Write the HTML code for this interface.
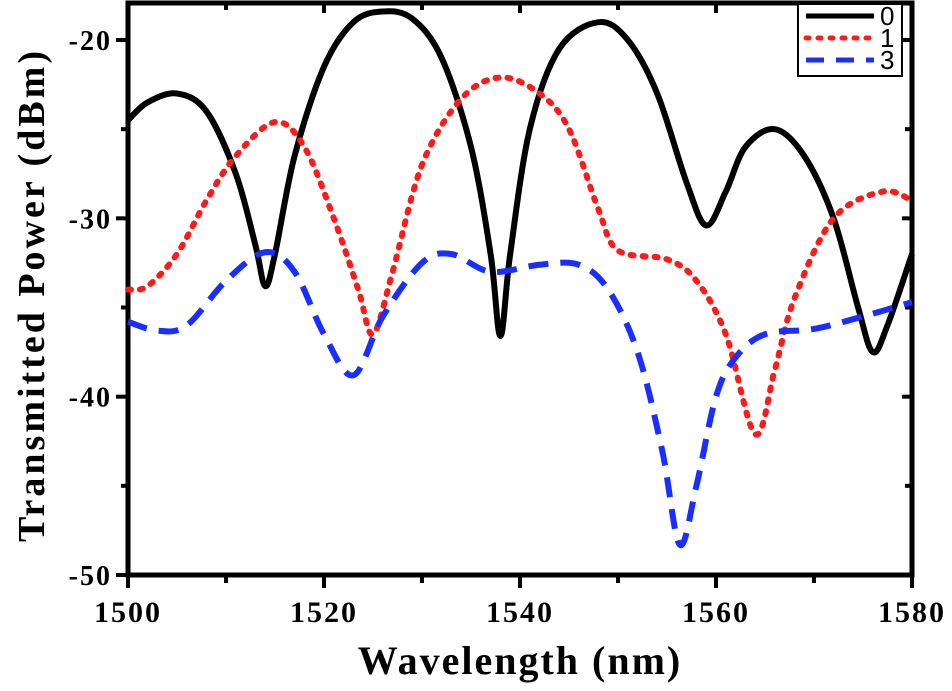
<!DOCTYPE html>
<html><head><meta charset="utf-8"><style>
html,body{margin:0;padding:0;background:#fff;}
svg{display:block;font-family:"Liberation Serif",serif;font-weight:bold;}
</style></head><body>
<svg id="chart" width="952" height="691" viewBox="0 0 952 691">
<g id="axes"></g>
<g id="series"></g>
<g id="legend"></g>
<text x="520" y="674" text-anchor="middle" font-size="40" letter-spacing="2">Wavelength (nm)</text>
<text transform="translate(44,295) rotate(-90)" text-anchor="middle" font-size="38" letter-spacing="3">Transmitted Power (dBm)</text>
</svg>
<script>
const xTicks=[1500,1520,1540,1560,1580];
const xMinor=[1510,1530,1550,1570];
const yTicks=[-20,-30,-40,-50];
const yMinor=[-25,-35,-45];
const seriesNames=["0","1","3"];
const black=[[1500,-24.5],[1502,-23.5],[1505,-23.0],[1508,-24.0],[1511,-27.5],[1513,-31.5],[1514,-33.8],[1515,-32],[1517,-26.5],[1520,-21.5],[1523,-19],[1526,-18.4],[1529,-18.8],[1532,-21],[1535,-26],[1537,-32],[1538,-36.6],[1539,-32],[1541,-25],[1544,-20.5],[1548,-19],[1551,-20],[1554,-23],[1557,-28],[1559,-30.4],[1561,-28.5],[1563,-26],[1566,-25],[1569,-26.5],[1572,-30],[1574.5,-35],[1576,-37.5],[1577.5,-36],[1580,-32]];
const red=[[1500,-34],[1502,-33.8],[1505,-32],[1508,-29],[1511,-26.5],[1515,-24.6],[1518,-26],[1521,-30],[1523.5,-34],[1525,-36.5],[1527,-33],[1530,-27],[1534,-23.3],[1538,-22.1],[1542,-23],[1545,-25],[1548,-29.5],[1550,-31.8],[1555,-32.3],[1558,-33.5],[1561,-36.5],[1564,-42.1],[1566,-38.5],[1568,-34.5],[1572,-30],[1577,-28.5],[1580,-29]];
const blue=[[1500,-35.8],[1503,-36.3],[1506,-36],[1510,-33.5],[1514,-31.9],[1517,-33],[1520,-36.5],[1523,-38.8],[1526,-35.5],[1530,-32.5],[1533,-32],[1537,-33],[1542,-32.6],[1546,-32.6],[1549,-34],[1552,-37.5],[1554.5,-43],[1556.3,-48.3],[1558,-45],[1560,-40],[1562,-37.8],[1565,-36.5],[1570,-36.2],[1575,-35.5],[1580,-34.7]];
const L=128,R=912,T=3,B=575;
const X=v=>L+(v-1500)/80*(R-L);
const Y=v=>40+(-20-v)*(B-40)/30;
const NS="http://www.w3.org/2000/svg";
function mk(tag,attrs,parent){const e=document.createElementNS(NS,tag);for(const k in attrs)e.setAttribute(k,attrs[k]);parent.appendChild(e);return e;}
const ax=document.getElementById('axes');
const frame=mk('rect',{x:L,y:T,width:R-L,height:B-T,fill:'none',stroke:'#000','stroke-width':5},ax);


xTicks.forEach(v=>{
 const t=mk('line',{x1:X(v),x2:X(v),y1:B,y2:B+13,stroke:'#000','stroke-width':4},ax);
 
 
 const tx=mk('text',{x:X(v),y:B+47,'text-anchor':'middle','font-size':30,'letter-spacing':2},ax);tx.textContent=v;
 
 
 mk('line',{x1:X(v),x2:X(v),y1:T,y2:T+10,stroke:'#000','stroke-width':4},ax);
});
xMinor.forEach(v=>{
 const t=mk('line',{x1:X(v),x2:X(v),y1:B,y2:B+8,stroke:'#000','stroke-width':4},ax);
 
 
 mk('line',{x1:X(v),x2:X(v),y1:T,y2:T+7,stroke:'#000','stroke-width':4},ax);
});
yTicks.forEach(v=>{
 const t=mk('line',{x1:L-12,x2:L,y1:Y(v),y2:Y(v),stroke:'#000','stroke-width':4},ax);
 
 
 const tx=mk('text',{x:L-16,y:Y(v)+10,'text-anchor':'end','font-size':28,'letter-spacing':2},ax);tx.textContent=v;
 
 
 mk('line',{x1:R-10,x2:R,y1:Y(v),y2:Y(v),stroke:'#000','stroke-width':4},ax);
});
yMinor.forEach(v=>{
 const t=mk('line',{x1:L-7,x2:L,y1:Y(v),y2:Y(v),stroke:'#000','stroke-width':4},ax);
 
 
 mk('line',{x1:R-7,x2:R,y1:Y(v),y2:Y(v),stroke:'#000','stroke-width':4},ax);
});
function pathD(pts){
 const p=pts.map(q=>[X(q[0]),Y(q[1])]);
 let d='M'+p[0][0]+','+p[0][1];
 for(let i=0;i<p.length-1;i++){
  const p0=p[i-1]||p[i],p1=p[i],p2=p[i+1],p3=p[i+2]||p2;
  const c1=[p1[0]+(p2[0]-p0[0])/6,p1[1]+(p2[1]-p0[1])/6];
  const c2=[p2[0]-(p3[0]-p1[0])/6,p2[1]-(p3[1]-p1[1])/6];
  d+=' C'+c1+' '+c2+' '+p2;
 }
 return d;
}
const sg=document.getElementById('series');
const styles=[{c:'#000',da:'none'},{c:'#ff1a1a',da:'3 9'},{c:'#1a2fff',da:'20 12'}];
[black,red,blue].forEach((s,i)=>{
 const p=mk('path',{d:pathD(s),fill:'none',stroke:styles[i].c,'stroke-width':6,'stroke-dasharray':styles[i].da,'stroke-linecap':i==1?'round':'butt'},sg);
 
 
});
const lg=document.getElementById('legend');
const box=mk('rect',{x:798,y:4,width:104,height:72,fill:'#fff',stroke:'#000','stroke-width':2},lg);


seriesNames.forEach((n,i)=>{
 const yy=16+i*22;
 const ln=mk('line',{x1:806,x2:874,y1:yy,y2:yy,stroke:styles[i].c,'stroke-width':5,'stroke-dasharray':i==2?'18 12':styles[i].da,'stroke-linecap':i==1?'round':'butt'},lg);
 
 
 const t=mk('text',{x:880,y:yy+9,'font-size':26,'font-family':'Liberation Sans, sans-serif','font-weight':'normal'},lg);t.textContent=n;
 
 
});
</script>
</body></html>
